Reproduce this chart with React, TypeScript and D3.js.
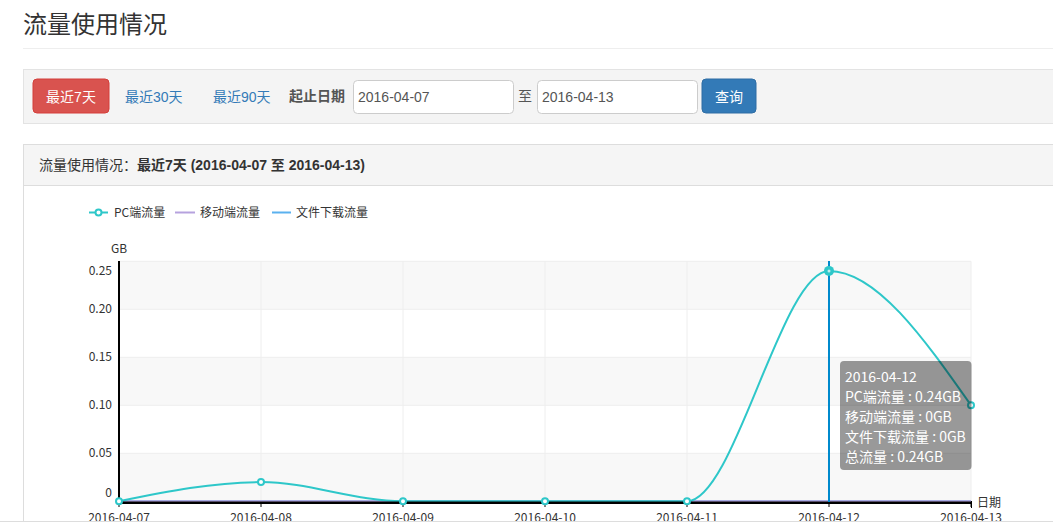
import React from 'react';
import * as d3 from 'd3';

const dates = ['2016-04-07', '2016-04-08', '2016-04-09', '2016-04-10', '2016-04-11', '2016-04-12', '2016-04-13'];
const pcTraffic = [0, 0.02, 0, 0, 0, 0.24, 0.10];
const mobileTraffic = [0, 0, 0, 0, 0, 0, 0];
const downloadTraffic = [0, 0, 0, 0, 0, 0, 0];
const yTicks = [0, 0.05, 0.1, 0.15, 0.2, 0.25];
const seriesNames = ['PC端流量', '移动端流量', '文件下载流量'];
const hoverIndex = 5;

const W = 1053;
const H = 523;
const CJK = '"Noto Sans CJK SC", "Microsoft YaHei", sans-serif';
const UI = '"Liberation Sans", Arial, "Noto Sans CJK SC", sans-serif';

const PC_COLOR = '#2ec7c9';
const MOBILE_COLOR = '#b6a2de';
const DL_COLOR = '#5ab1ef';

export default function App() {
  const x = d3.scalePoint<string>().domain(dates).range([119, 971]);
  const y = d3.scaleLinear().domain([0, 0.25]).range([501.3, 261.3]);
  const line = d3
    .line<number>()
    .x((_, i) => x(dates[i]) as number)
    .y((d) => y(d))
    .curve(d3.curveMonotoneX);

  const bands = yTicks.slice(0, -1).map((t, i) => ({ y0: y(yTicks[i + 1]), y1: y(t), i }));
  const hx = x(dates[hoverIndex]) as number;
  const fmt = (v: number) => (v === 0 ? '0' : v.toFixed(2));
  const gb = (v: number) => `${+v.toFixed(2)}GB`;
  const total = pcTraffic[hoverIndex] + mobileTraffic[hoverIndex] + downloadTraffic[hoverIndex];
  const tipLines = [
    dates[hoverIndex],
    `${seriesNames[0]} : ${gb(pcTraffic[hoverIndex])}`,
    `${seriesNames[1]} : ${gb(mobileTraffic[hoverIndex])}`,
    `${seriesNames[2]} : ${gb(downloadTraffic[hoverIndex])}`,
    `总流量 : ${gb(total)}`,
  ];

  return (
    <svg width={W} height={H} style={{ position: 'absolute', left: 0, top: 0, background: '#fff' }}>
      {/* page title */}
      <text x={23} y={33} fontFamily={CJK} fontSize={24} fill="#333">流量使用情况</text>
      <line x1={23} x2={W} y1={48.5} y2={48.5} stroke="#eee" />

      {/* filter bar */}
      <rect x={23.5} y={69.5} width={W} height={54} fill="#f4f4f4" stroke="#e3e3e3" />
      <rect x={33} y={79} width={76} height={34} rx={4} fill="#d9534f" stroke="#d43f3a" />
      <text x={71} y={101.5} textAnchor="middle" fontFamily={UI} fontSize={14} fill="#fff">最近7天</text>
      <text x={125} y={101.5} fontFamily={UI} fontSize={14} fill="#337ab7">最近30天</text>
      <text x={213} y={101.5} fontFamily={UI} fontSize={14} fill="#337ab7">最近90天</text>
      <text x={289} y={101} fontFamily={UI} fontSize={14} fontWeight="bold" fill="#555">起止日期</text>
      <rect x={353.5} y={80.5} width={160} height={33} rx={4} fill="#fff" stroke="#ccc" />
      <text x={358} y={102} fontFamily={UI} fontSize={14} fill="#555">{dates[0]}</text>
      <text x={518} y={101} fontFamily={UI} fontSize={14} fill="#555">至</text>
      <rect x={537.5} y={80.5} width={160} height={33} rx={4} fill="#fff" stroke="#ccc" />
      <text x={542} y={102} fontFamily={UI} fontSize={14} fill="#555">{dates[dates.length - 1]}</text>
      <rect x={702} y={79} width={54} height={34} rx={4} fill="#337ab7" stroke="#2e6da4" />
      <text x={729} y={101.5} textAnchor="middle" fontFamily={UI} fontSize={14} fill="#fff">查询</text>

      {/* panel */}
      <rect x={23.5} y={144.5} width={W} height={H} fill="#fff" stroke="#ddd" />
      <rect x={24} y={145} width={W} height={40} fill="#f5f5f5" />
      <line x1={24} x2={W} y1={185.5} y2={185.5} stroke="#ddd" />
      <text x={39} y={170} fontFamily={UI} fontSize={14} fill="#333">
        流量使用情况：
        <tspan fontWeight="bold">{`最近7天 (${dates[0]} 至 ${dates[dates.length - 1]})`}</tspan>
      </text>

      {/* legend */}
      <g fontFamily={CJK} fontSize={12} fill="#333">
        <line x1={89} x2={108} y1={212.5} y2={212.5} stroke={PC_COLOR} strokeWidth={2} />
        <circle cx={98.5} cy={212.5} r={3} fill="#fff" stroke={PC_COLOR} strokeWidth={2} />
        <text x={114} y={216.5}>{seriesNames[0]}</text>
        <line x1={175} x2={195} y1={212.5} y2={212.5} stroke={MOBILE_COLOR} strokeWidth={2} />
        <text x={200} y={216.5}>{seriesNames[1]}</text>
        <line x1={272} x2={291} y1={212.5} y2={212.5} stroke={DL_COLOR} strokeWidth={2} />
        <text x={296} y={216.5}>{seriesNames[2]}</text>
      </g>

      {/* plot area */}
      {bands.map((b) => (
        <rect key={b.i} x={119} y={b.y0} width={852} height={b.y1 - b.y0} fill={b.i % 2 === 0 ? '#f8f8f8' : '#fff'} />
      ))}
      {yTicks.map((t) => (
        <line key={'gy' + t} x1={119} x2={971} y1={y(t)} y2={y(t)} stroke="#eee" />
      ))}
      {dates.map((d) => (
        <line key={'gx' + d} x1={x(d)} x2={x(d)} y1={261.3} y2={501.3} stroke="#eee" />
      ))}

      {/* series */}
      <path d={line(downloadTraffic) || ''} fill="none" stroke={DL_COLOR} strokeWidth={2} />
      <path d={line(mobileTraffic) || ''} fill="none" stroke={MOBILE_COLOR} strokeWidth={2} />
      <path d={line(pcTraffic) || ''} fill="none" stroke={PC_COLOR} strokeWidth={2} />

      {/* axes */}
      <g fontFamily={CJK} fontSize={12} fill="#333">
        <line x1={118} x2={972} y1={502.8} y2={502.8} stroke="#000" strokeWidth={2.5} />
        {dates.map((d) => (
          <line key={'tk' + d} x1={x(d)} x2={x(d)} y1={503} y2={507} stroke="#000" strokeWidth={1} />
        ))}
        <line x1={971.5} x2={971.5} y1={501} y2={508} stroke="#000" />
        <line x1={119} x2={119} y1={261} y2={504} stroke="#000" strokeWidth={2} />
        {dates.map((d) => (
          <text key={'xl' + d} x={x(d)} y={522} textAnchor="middle">{d}</text>
        ))}
        {yTicks.map((t, i) => {
          const off = i === 0 ? -8 : i === yTicks.length - 1 ? 10 : 0;
          return (
            <text key={'yl' + t} x={112} y={y(t) + off + 4} textAnchor="end">{fmt(t)}</text>
          );
        })}
        <text x={119} y={253} textAnchor="middle">GB</text>
        <text x={977} y={507}>日期</text>
      </g>

      {/* markers */}
      {pcTraffic.map((v, i) =>
        i === hoverIndex ? null : (
          <circle key={'m' + i} cx={x(dates[i])} cy={y(v)} r={3} fill="#fff" stroke={PC_COLOR} strokeWidth={2} />
        )
      )}

      {/* hover indicator */}
      <line x1={hx} x2={hx} y1={261} y2={502} stroke="#008acd" strokeWidth={2} />
      <circle cx={hx} cy={y(pcTraffic[hoverIndex])} r={5} fill={PC_COLOR} />
      <circle cx={hx} cy={y(pcTraffic[hoverIndex])} r={1.5} fill="#bfeeee" />

      {/* tooltip */}
      <rect x={840} y={361} width={131.5} height={109} rx={4} fill="rgba(0,0,0,0.4)" />
      <g fontFamily={CJK} fontSize={14} fill="#fff">
        {tipLines.map((t, i) => (
          <text key={'tt' + i} x={845} y={382 + i * 20}>{t}</text>
        ))}
      </g>

      {/* bottom edge */}
      <rect x={0} y={521} width={W} height={2} fill="#fff" />
      <line x1={0} x2={W} y1={521.5} y2={521.5} stroke="#ddd" />
    </svg>
  );
}
